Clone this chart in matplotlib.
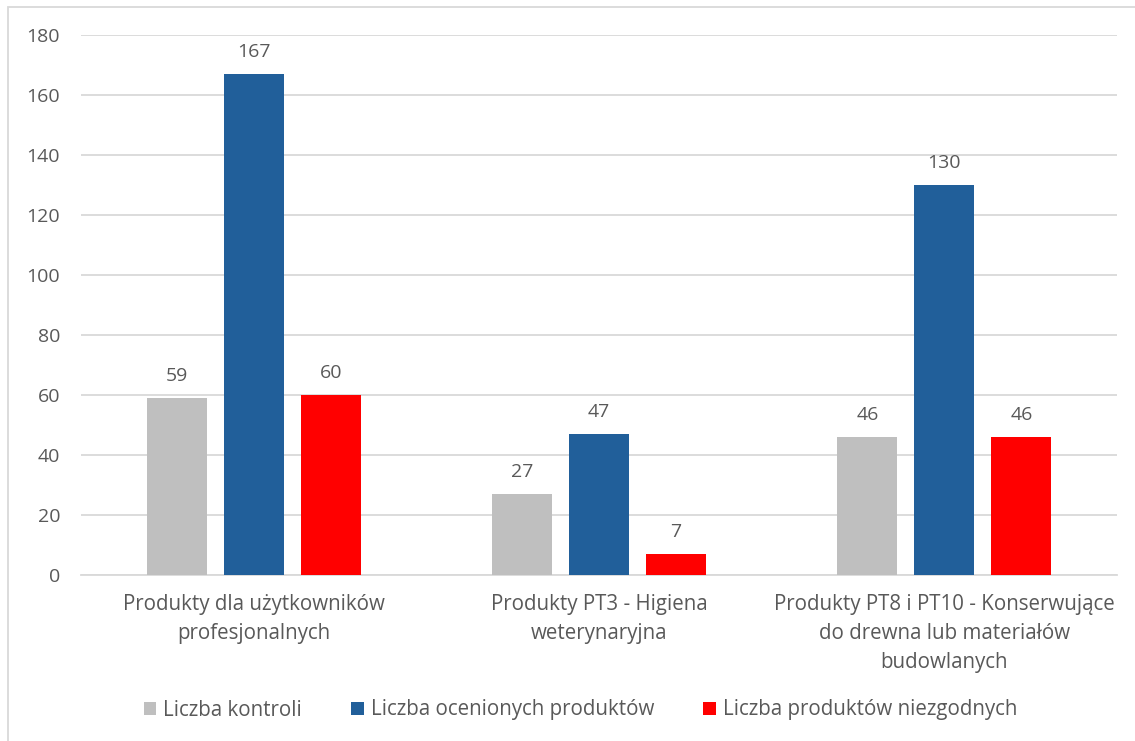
import matplotlib
matplotlib.use("Agg")
import matplotlib.pyplot as plt
from matplotlib.patches import Rectangle, Patch
import numpy as np

categories = [
    "Produkty dla użytkowników\nprofesjonalnych",
    "Produkty PT3 - Higiena\nweterynaryjna",
    "Produkty PT8 i PT10 - Konserwujące\ndo drewna lub materiałów\nbudowlanych",
]
series_names = ["Liczba kontroli", "Liczba ocenionych produktów", "Liczba produktów niezgodnych"]
kontrole = [59, 27, 46]
ocenione = [167, 47, 130]
niezgodne = [60, 7, 46]
y_ticks = [0, 20, 40, 60, 80, 100, 120, 140, 160, 180]

colors = ["#BFBFBF", "#215F9A", "#FF0000"]
text_color = "#595959"
grid_color = "#D9D9D9"
fs_num = 14
fs_text = 14.8

plt.rcParams["font.family"] = ["Open Sans", "DejaVu Sans"]

W, H = 1135, 741
fig = plt.figure(figsize=(W / 100, H / 100), dpi=100)
fig.patches.append(Rectangle((8 / W, -0.02), 1.05, 1 - 7 / H + 0.02,
                             transform=fig.transFigure, fill=False,
                             edgecolor=grid_color, linewidth=1.3))

ax = fig.add_axes([81 / W, 1 - 575 / H, (1117 - 81) / W, (575 - 35) / H])
x = np.arange(len(categories))
width = 0.174
step = 0.223
values = [kontrole, ocenione, niezgodne]
for i, (vals, name, c) in enumerate(zip(values, series_names, colors)):
    bars = ax.bar(x + (i - 1) * step, vals, width, color=c, label=name, zorder=3)
    for b, v in zip(bars, vals):
        ax.annotate(str(v), (b.get_x() + b.get_width() / 2, v), xytext=(0, 12),
                    textcoords="offset points", ha="center", va="baseline",
                    fontsize=fs_num, color=text_color)

ax.set_xlim(-0.5, 2.5)
ax.set_ylim(0, 180)
ax.set_yticks(y_ticks)
ax.set_yticklabels([str(t) for t in y_ticks])
ax.yaxis.grid(True, color=grid_color, linewidth=1.3, zorder=0)
ax.set_axisbelow(True)
for s in ["top", "right", "left"]:
    ax.spines[s].set_visible(False)
ax.spines["bottom"].set_color(grid_color)
ax.spines["bottom"].set_linewidth(1.3)
ax.tick_params(axis="y", length=0, pad=15, labelsize=fs_num, labelcolor=text_color)
ax.tick_params(axis="x", length=0, pad=14, labelsize=fs_text, labelcolor=text_color)
ax.set_xticks(x)
ax.set_xticklabels(categories, linespacing=1.5)

handles = [Patch(facecolor=c, edgecolor="none") for c in colors]
fig.legend(handles, series_names, loc="center", bbox_to_anchor=(580.5 / W, 1 - 710 / H),
           ncol=3, frameon=False, fontsize=fs_text, labelcolor=text_color,
           handlelength=0.6, handleheight=0.6, handletextpad=0.35, columnspacing=2.4)

fig.savefig("out.png", dpi=100)
